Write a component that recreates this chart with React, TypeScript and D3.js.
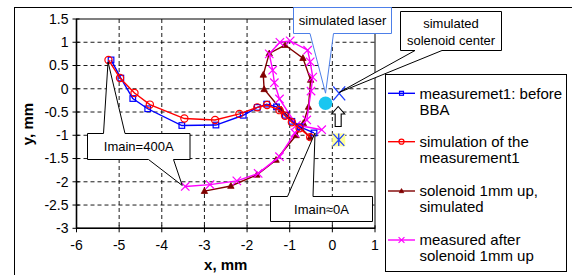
import React from "react";
import * as d3 from "d3";

// ---- data ----
const blueX = [-5.19, -4.96, -4.68, -4.33, -3.53, -2.73, -2.09, -1.76, -1.54, -1.31, -1.10, -0.95, -0.76, -0.43];
const blueY = [0.62, 0.23, -0.21, -0.43, -0.79, -0.78, -0.57, -0.40, -0.33, -0.39, -0.57, -0.70, -0.82, -0.95];

const redX = [-5.25, -4.98, -4.64, -4.28, -3.47, -2.75, -2.18, -1.76, -1.53, -1.24, -1.11, -0.95, -0.77, -0.52];
const redY = [0.62, 0.23, -0.09, -0.34, -0.64, -0.67, -0.54, -0.40, -0.35, -0.46, -0.58, -0.72, -0.85, -1.04];

const darkX = [-3.0, -2.38, -1.77, -1.32, -0.85, -0.68, -0.56, -0.51, -0.69, -1.11, -1.48, -1.62, -1.60, -1.20, -0.76, -0.52];
const darkY = [-2.2, -2.09, -1.85, -1.53, -1.0, -0.74, -0.39, 0.19, 0.66, 0.94, 0.76, 0.30, -0.01, -0.45, -0.82, -1.04];

const pinkX = [-3.45, -2.87, -2.24, -1.74, -1.24, -0.88, -0.60, -0.50, -0.46, -0.52, -0.58, -0.99, -1.23, -1.48, -1.40, -1.36, -1.24, -0.84, -0.25];
const pinkY = [-2.10, -2.06, -1.98, -1.82, -1.46, -0.95, -0.67, -0.05, 0.25, 0.58, 0.83, 1.03, 1.00, 0.75, 0.40, 0.13, -0.22, -0.78, -0.88];

const laserPoint = [-0.16, -0.31];
const solenoidCenter = [0.16, -0.10];
const solenoidCenterUp = [0.15, -1.10];

const xTicks = [-6, -5, -4, -3, -2, -1, 0, 1];
const yTicks = [-3, -2.5, -2, -1.5, -1, -0.5, 0, 0.5, 1, 1.5];

const legendLabels = [
  ["measuremet1: before", "BBA"],
  ["simulation of the", "measurement1"],
  ["solenoid 1mm up,", "simulated"],
  ["measured after", "solenoid 1mm up"],
];

const BLUE = "#0000ff";
const RED = "#ff0000";
const DARK = "#800000";
const PINK = "#ff00ff";
const FONT = "Liberation Sans, Arial, sans-serif";

const x = d3.scaleLinear().domain([-6, 1]).range([76.5, 375]);
const y = d3.scaleLinear().domain([-3, 1.5]).range([228.3, 19]);

const line = d3
  .line<[number, number]>()
  .x((d) => x(d[0]))
  .y((d) => y(d[1]));

const zip = (a: number[], b: number[]) => a.map((v, i) => [v, b[i]] as [number, number]);

function Marker({ kind, cx, cy, color, s = 1 }: any) {
  if (kind === "square")
    return <rect x={cx - 2.8 * s} y={cy - 2.8 * s} width={5.6 * s} height={5.6 * s} fill="none" stroke={color} strokeWidth={1.2} />;
  if (kind === "circle") return <circle cx={cx} cy={cy} r={3.6 * s} fill="none" stroke={color} strokeWidth={1.2} />;
  if (kind === "tri")
    return (
      <path
        d={`M${cx},${cy - 3.4 * s}L${cx + 3.2 * s},${cy + 2.4 * s}L${cx - 3.2 * s},${cy + 2.4 * s}Z`}
        fill={color}
        stroke={color}
        strokeWidth={0.8}
      />
    );
  const h = 4.2 * s;
  return (
    <path d={`M${cx - h},${cy - h}L${cx + h},${cy + h}M${cx - h},${cy + h}L${cx + h},${cy - h}`} stroke={color} strokeWidth={1.2} />
  );
}

function Series({ xs, ys, color, kind }: any) {
  const pts = zip(xs, ys);
  return (
    <g>
      <path d={line(pts) || ""} fill="none" stroke={color} strokeWidth={1.4} />
      {pts.map((p, i) => (
        <Marker key={i} kind={kind} cx={x(p[0])} cy={y(p[1])} color={color} />
      ))}
    </g>
  );
}

// callout path: box with pointers
function callout(x0: number, y0: number, x1: number, y1: number, top: any, bottom: any) {
  let d = `M${x0},${y0}`;
  if (top) d += `H${top.b1}L${top.tx},${top.ty}L${top.b2},${y0}`;
  d += `H${x1}V${y1}`;
  if (bottom) d += `H${bottom.b2}L${bottom.tx},${bottom.ty}L${bottom.b1},${y1}`;
  d += `H${x0}Z`;
  return d;
}

export default function App() {
  const fmt = (v: number) => String(v);
  const legendRows = [93.3, 141.7, 191, 240];
  const kinds = ["square", "circle", "tri", "x"];
  const colors = [BLUE, RED, DARK, PINK];

  const lx = x(laserPoint[0]);
  const ly = y(laserPoint[1]);
  const scx = x(solenoidCenter[0]);
  const scy = y(solenoidCenter[1]);
  const sux = x(solenoidCenterUp[0]);
  const suy = y(solenoidCenterUp[1]);

  return (
    <svg width={572} height={275} style={{ position: "absolute", left: 0, top: 0, background: "#fff" }} fontFamily={FONT}>
      <rect x={0} y={0} width={572} height={275} fill="#fff" />
      {/* outer frame */}
      <rect x={14.5} y={7.5} width={600} height={300} fill="none" stroke="#000" strokeWidth={1} />

      {/* grid */}
      {xTicks.slice(1, -1).map((t) => (
        <line key={"gx" + t} x1={x(t)} x2={x(t)} y1={y(1.5)} y2={y(-3)} stroke="#000" strokeWidth={0.9} strokeDasharray="4,3" />
      ))}
      {yTicks.slice(1, -1).map((t) => (
        <line key={"gy" + t} x1={x(-6)} x2={x(1)} y1={y(t)} y2={y(t)} stroke="#000" strokeWidth={0.9} strokeDasharray="4,3" />
      ))}
      {/* plot border */}
      <rect x={x(-6)} y={y(1.5)} width={x(1) - x(-6)} height={y(-3) - y(1.5)} fill="none" stroke="#000" strokeWidth={1} />
      <line x1={x(-6)} x2={x(-6)} y1={y(1.5)} y2={y(-3)} stroke="#000" strokeWidth={1.6} />
      <line x1={x(-6)} x2={x(1)} y1={y(-3)} y2={y(-3)} stroke="#000" strokeWidth={1.6} />

      {/* ticks */}
      {xTicks.map((t) => (
        <g key={"tx" + t}>
          <line x1={x(t)} x2={x(t)} y1={y(-3) - 3} y2={y(-3) + 4} stroke="#000" strokeWidth={1} />
          <text x={x(t)} y={y(-3) + 22} fontSize={14} textAnchor="middle">
            {fmt(t)}
          </text>
        </g>
      ))}
      {yTicks.map((t) => (
        <g key={"ty" + t}>
          <line x1={x(-6) - 4} x2={x(-6) + 3} y1={y(t)} y2={y(t)} stroke="#000" strokeWidth={1} />
          <text x={x(-6) - 8} y={y(t)} dy="0.35em" fontSize={14} textAnchor="end">
            {fmt(t)}
          </text>
        </g>
      ))}

      {/* axis titles */}
      <text x={(x(-6) + x(1)) / 2} y={265} dy="0.35em" fontSize={15} fontWeight="bold" textAnchor="middle">
        x, mm
      </text>
      <text transform="translate(28,124) rotate(-90)" dy="0.35em" fontSize={15} fontWeight="bold" textAnchor="middle">
        y, mm
      </text>

      {/* series */}
      <Series xs={darkX} ys={darkY} color={DARK} kind="tri" />
      <Series xs={pinkX} ys={pinkY} color={PINK} kind="x" />
      <Series xs={blueX} ys={blueY} color={BLUE} kind="square" />
      <Series xs={redX} ys={redY} color={RED} kind="circle" />

      {/* laser point */}
      <circle cx={lx} cy={ly} r={6.8} fill="#19c6f0" />
      {/* solenoid center */}
      <path d={`M${scx - 6},${scy - 7}L${scx + 6},${scy + 7}M${scx - 6},${scy + 7}L${scx + 6},${scy - 7}`} stroke="#2040ff" strokeWidth={1.4} />
      {/* shifted solenoid center */}
      <rect x={sux - 6.5} y={suy - 6.5} width={13} height={13} fill="#ffff99" />
      <path
        d={`M${sux - 5.5},${suy - 6}L${sux + 5.5},${suy + 6}M${sux - 5.5},${suy + 6}L${sux + 5.5},${suy - 6}M${sux},${suy - 6.5}V${suy + 6}`}
        stroke="#2040ff"
        strokeWidth={1.3}
      />
      {/* up arrow */}
      <path
        d={`M${scx - 1},${106.5}L${scx + 5.5},${114}H${scx + 2}V${126.5}H${scx - 4}V${114}H${scx - 7.5}Z`}
        fill="#fff"
        stroke="#000"
        strokeWidth={1.1}
      />

      {/* callouts */}
      <path
        d={callout(87.5, 133.5, 190, 159.5, { b1: 103.5, b2: 125, tx: x(blueX[0]) - 3, ty: y(blueY[0]) + 2 }, { b1: 148.5, b2: 173.5, tx: x(pinkX[0]) - 3, ty: y(pinkY[0]) - 1 })}
        fill="#fff"
        stroke="#000"
        strokeWidth={1}
      />
      <text x={138.7} y={146.5} dy="0.35em" fontSize={13} textAnchor="middle">
        Imain=400A
      </text>

      <path
        d={callout(270.5, 196.5, 372.5, 221.5, { b1: 287.5, b2: 313, tx: x(blueX[blueX.length - 1]) + 1, ty: y(blueY[blueY.length - 1]) }, null)}
        fill="#fff"
        stroke="#000"
        strokeWidth={1}
      />
      <text x={321.5} y={209} dy="0.35em" fontSize={13} textAnchor="middle">
        Imain≈0A
      </text>

      <path
        d={callout(293.5, 7.5, 391.5, 33.5, null, { b1: 310, b2: 333.5, tx: lx, ty: ly - 10 })}
        fill="#fff"
        stroke="#4d7fe8"
        strokeWidth={1}
      />
      <text x={342.5} y={20.5} dy="0.35em" fontSize={13} textAnchor="middle">
        simulated laser
      </text>

      <path
        d={callout(400.5, 11.5, 501.5, 50.5, null, { b1: 415, b2: 442, tx: scx, ty: scy - 1 })}
        fill="#fff"
        stroke="#000"
        strokeWidth={1}
      />
      <text x={451} y={23} dy="0.35em" fontSize={13} textAnchor="middle">
        simulated
      </text>
      <text x={451} y={40} dy="0.35em" fontSize={13} textAnchor="middle">
        solenoid center
      </text>

      {/* legend */}
      <rect x={385.5} y={74.5} width={181} height={197} fill="#fff" stroke="#000" strokeWidth={1} />
      {legendLabels.map((lines, i) => (
        <g key={"lg" + i}>
          <line x1={388} x2={415} y1={legendRows[i]} y2={legendRows[i]} stroke={colors[i]} strokeWidth={1.4} />
          <Marker kind={kinds[i]} cx={401.5} cy={legendRows[i]} color={colors[i]} s={0.7} />
          {lines.map((t, j) => (
            <text key={j} x={419.5} y={legendRows[i] + j * 16} dy="0.35em" fontSize={15}>
              {t}
            </text>
          ))}
        </g>
      ))}
    </svg>
  );
}
